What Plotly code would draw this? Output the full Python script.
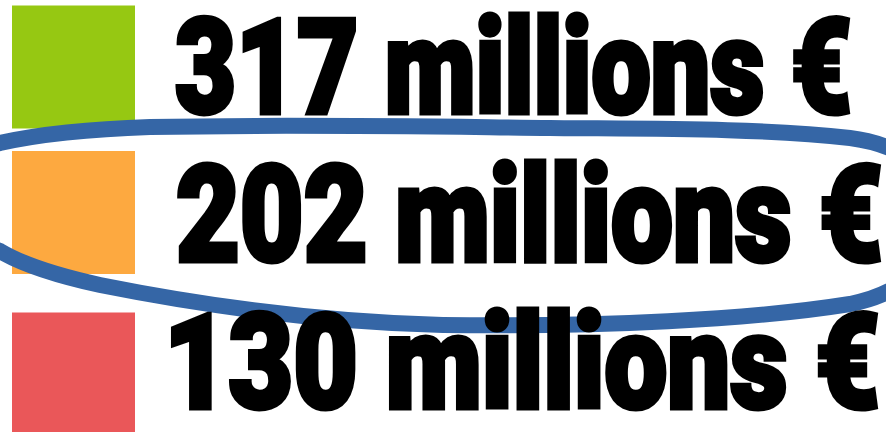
import plotly.graph_objects as go

# ---- data ----
values = [317, 202, 130]
unit_label = "millions €"
colors = ["#96C812", "#FDA940", "#EA5759"]

# ---- layout constants (pixels) ----
W, H = 886, 432
square_x = 73.5
square_size = 123
row_y = [67, 212.5, 374]
text_y = [68, 215, 363]
text_x = [174, 175, 163]
font_sizes = [131, 134, 131]
target_widths = [677, 707, 716]   # label widths after condensing
stroke_w = 5

fig = go.Figure()
for v, c, y in zip(values, colors, row_y):
    fig.add_trace(go.Scatter(
        x=[square_x], y=[y], mode="markers",
        marker=dict(symbol="square", size=square_size, color=c, line=dict(width=0)),
        hovertext=[f"{v} {unit_label}"], hoverinfo="text", showlegend=False,
    ))

for v, x, y, fs in zip(values, text_x, text_y, font_sizes):
    fig.add_annotation(
        x=x, y=y, xref="x", yref="y", xanchor="left", yanchor="middle",
        text=f"{v} {unit_label}", showarrow=False, borderpad=0,
        font=dict(family="Roboto", size=fs, color="black", weight=900),
    )

ellipse = ("M -45,197 C -45,170 -25,150 0,143 C 40,134 90,129 150,127 "
           "C 300,124 450,127 550,128 C 650,129 760,128 850,138 "
           "C 910,146 935,175 935,215 C 935,260 910,292 850,304 "
           "C 750,320 600,327 443,325 C 320,322 200,305 100,285 "
           "C 50,274 20,263 0,251 C -30,240 -45,220 -45,197 Z")
fig.add_shape(type="path", path=ellipse, xref="x", yref="y",
              line=dict(color="#3566A6", width=16), fillcolor="rgba(0,0,0,0)")

fig.update_layout(
    width=W, height=H, margin=dict(l=0, r=0, t=0, b=0),
    paper_bgcolor="white", plot_bgcolor="white",
    xaxis=dict(range=[0, W], visible=False, fixedrange=True),
    yaxis=dict(range=[H, 0], visible=False, fixedrange=True),
)

# condense the heavy labels (Impact-like look) and remove the page margin
post = """
document.body.style.margin = '0';
var gd = document.querySelector('.plotly-graph-div');
var targets = %s;
var groups = gd.querySelectorAll('g.annotation');
groups.forEach(function(g, i) {
  var t = g.querySelector('.annotation-text');
  t.setAttribute('stroke', 'black');
  t.setAttribute('stroke-width', '%f');
  t.setAttribute('stroke-linejoin', 'miter');
  var s = targets[i] / t.getBBox().width;
  g.style.transformBox = 'fill-box';
  g.style.transformOrigin = 'left center';
  g.style.transform = 'scaleX(' + s + ')';
});
""" % (str(target_widths), stroke_w)

fig.write_html("out.html", post_script=post, config={"staticPlot": True})
